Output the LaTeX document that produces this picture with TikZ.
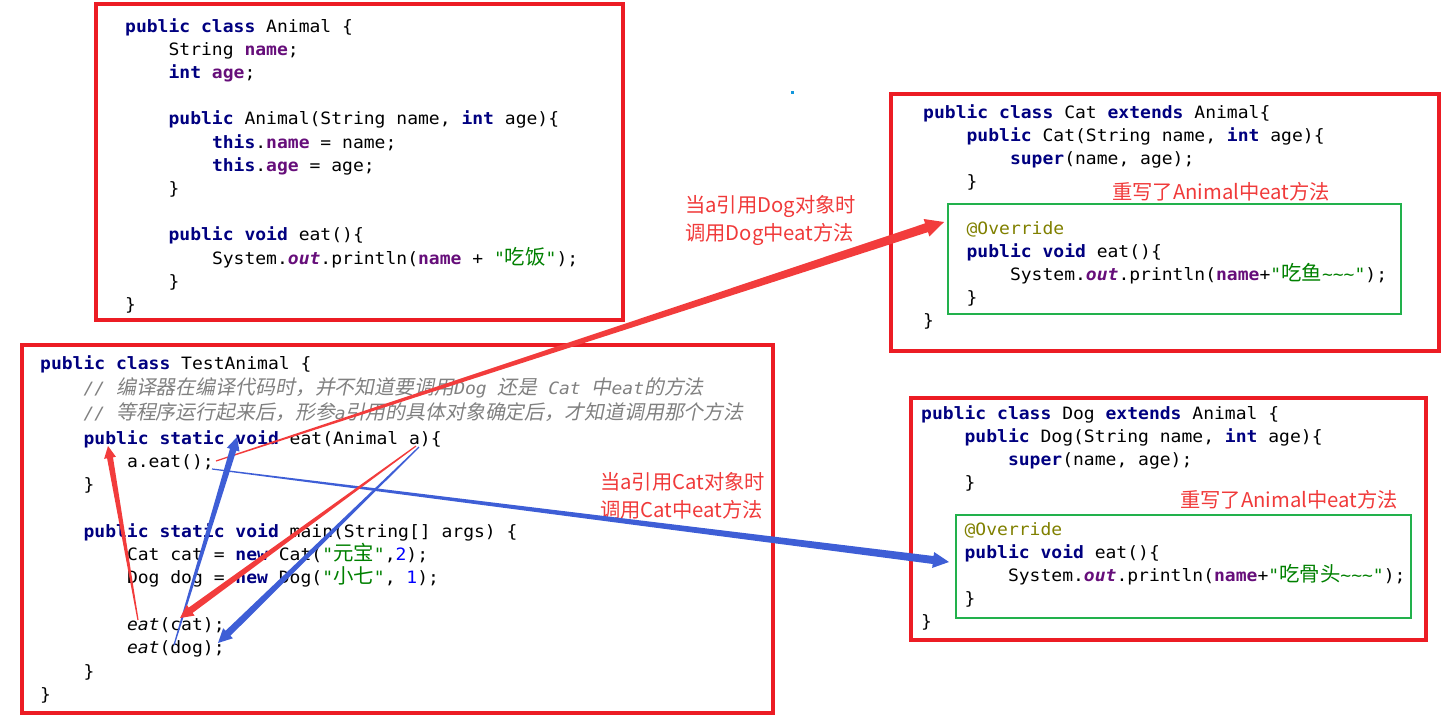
\documentclass[tikz,border=0pt]{standalone}
\usepackage{fontspec}
\usetikzlibrary{calc}
\setmonofont[FakeStretch=1.06]{DejaVu Sans Mono}
\newfontfamily\cjk[Scale=1.2]{Noto Sans CJK SC}
\newfontfamily\cjkit[Scale=1.17,FakeSlant=0.2]{Noto Sans CJK SC}
\newfontfamily\notefont{Noto Sans CJK SC}

\definecolor{boxred}{RGB}{236,28,36}
\definecolor{boxgreen}{RGB}{34,177,76}
\definecolor{notered}{RGB}{240,58,58}
\definecolor{arrred}{RGB}{242,60,60}
\definecolor{arrblue}{RGB}{62,94,214}
\definecolor{kwnavy}{RGB}{0,0,128}
\definecolor{fldpurple}{RGB}{102,14,122}
\definecolor{strgreen}{RGB}{0,128,0}
\definecolor{numblue}{RGB}{0,0,255}
\definecolor{cmtgray}{RGB}{128,128,128}
\definecolor{annolive}{RGB}{128,128,0}
\definecolor{dotblue}{RGB}{18,150,219}

% syntax colouring
\newcommand\kw[1]{\textcolor{kwnavy}{\bfseries #1}}
\newcommand\fld[1]{\textcolor{fldpurple}{\bfseries #1}}
\newcommand\str[1]{\textcolor{strgreen}{#1}}
\newcommand\num[1]{\textcolor{numblue}{#1}}
\newcommand\cmt[1]{\textcolor{cmtgray}{\itshape #1}}
\newcommand\ann[1]{\textcolor{annolive}{#1}}
\newcommand\outf{\textcolor{fldpurple}{\bfseries\itshape out}}
\newcommand\tld{\char`\~}
\newcommand\tab{\hspace*{43.4pt}}

% tapered arrow: colour, half width, from, to
\newcommand\bigarrow[4]{%
  \path ($(#4)!{4*#2pt}!(#3)$) coordinate (hb);
  \fill[#1] ($(#3)!0.6pt!90:(#4)$) -- ($(hb)!{#2pt}!90:(#4)$)
    -- ($(hb)!{2*#2pt}!90:(#4)$) -- (#4)
    -- ($(hb)!{2*#2pt}!-90:(#4)$) -- ($(hb)!{#2pt}!-90:(#4)$)
    -- ($(#3)!0.6pt!-90:(#4)$) -- cycle;
}

\tikzset{
  codebox/.style={draw=boxred, line width=3.2pt},
  overbox/.style={draw=boxgreen, line width=2.8pt},
  code/.style={anchor=north west, inner sep=0pt, align=left,
    font=\ttfamily\fontsize{17}{23.2}\selectfont},
  note/.style={inner sep=0pt, align=left, text=notered,
    font=\notefont\fontsize{20.3}{28.5}\selectfont},
}

\begin{document}
\begin{tikzpicture}[x=1pt,y=-1pt]
\useasboundingbox (0,0) rectangle (1455,721);

% class Animal
\draw[codebox] (96,4) rectangle (623,320);
\node[code] (animal) at (125,18) {%
\kw{public} \kw{class} Animal \{\\
\tab String \fld{name};\\
\tab\kw{int} \fld{age};\\
\mbox{}\\
\tab\kw{public} Animal(String name, \kw{int} age)\{\\
\tab\tab\kw{this}.\fld{name} = name;\\
\tab\tab\kw{this}.\fld{age} = age;\\
\tab\}\\
\mbox{}\\
\tab\kw{public} \kw{void} eat()\{\\
\tab\tab System.\outf.println(\fld{name} + \str{"{\cjk 吃饭}"});\\
\tab\}\\
\}};

% class TestAnimal
\draw[codebox] (22,345) rectangle (773,713);
\node[code, font=\ttfamily\fontsize{17}{23.3}\selectfont] (test) at (40,355) {%
\kw{public} \kw{class} TestAnimal \{\\[1.7pt]
\tab\cmt{// {\cjkit 编译器在编译代码时，并不知道要调用}Dog {\cjkit 还是} Cat {\cjkit 中}eat{\cjkit 的方法}}\\[1.7pt]
\tab\cmt{// {\cjkit 等程序运行起来后，形参}a{\cjkit 引用的具体对象确定后，才知道调用那个方法}}\\[1.7pt]
\tab\kw{public} \kw{static} \kw{void} eat(Animal a)\{\\
\tab\tab a.eat();\\
\tab\}\\
\mbox{}\\
\tab\kw{public} \kw{static} \kw{void} main(String[] args) \{\\
\tab\tab Cat cat = \kw{new} Cat(\str{"{\cjk 元宝}"},\num{2});\\
\tab\tab Dog dog = \kw{new} Dog(\str{"{\cjk 小七}"}, \num{1});\\
\mbox{}\\
\tab\tab\textit{eat}(cat);\\
\tab\tab\textit{eat}(dog);\\
\tab\}\\
\}};

% class Cat
\draw[codebox] (891,94) rectangle (1439,351);
\draw[overbox] (948,204) rectangle (1401,314);
\node[code] (cat) at (923,104) {%
\kw{public} \kw{class} Cat \kw{extends} Animal\{\\
\tab\kw{public} Cat(String name, \kw{int} age)\{\\
\tab\tab\kw{super}(name, age);\\
\tab\}\\
\mbox{}\\
\tab\ann{@Override}\\
\tab\kw{public} \kw{void} eat()\{\\
\tab\tab System.\outf.println(\fld{name}+\str{"{\cjk 吃鱼}\tld\tld\tld"});\\
\tab\}\\
\}};
\node[note, anchor=west] (catnote) at (1112,192) {重写了Animal中eat方法};

% class Dog
\draw[codebox] (911,398) rectangle (1426,640);
\draw[overbox] (956,515) rectangle (1411,618);
\node[code] (dog) at (921,405) {%
\kw{public} \kw{class} Dog \kw{extends} Animal \{\\
\tab\kw{public} Dog(String name, \kw{int} age)\{\\
\tab\tab\kw{super}(name, age);\\
\tab\}\\
\mbox{}\\
\tab\ann{@Override}\\
\tab\kw{public} \kw{void} eat()\{\\
\tab\tab System.\outf.println(\fld{name}+\str{"{\cjk 吃骨头}\tld\tld\tld"});\\
\tab\}\\
\}};
\node[note, anchor=west] (dognote) at (1180,500) {重写了Animal中eat方法};

% notes on the calls
\node[note, anchor=north west] (whendog) at (685,195) {当a引用Dog对象时\\调用Dog中eat方法};
\node[note, anchor=north west] (whencat) at (600,472) {当a引用Cat对象时\\调用Cat中eat方法};
\fill[dotblue] (790.5,90.5) rectangle (793.5,93.5);

% arrow ends
\coordinate (aeatr) at (216,461);
\coordinate (aeatb) at (212,469);
\coordinate (catin) at (944,222);
\coordinate (dogin) at (949,562);
\coordinate (eatcat) at (138,620);
\coordinate (eatdog) at (174,645);
\coordinate (pub) at (108,446);
\coordinate (void) at (237,437);
\coordinate (parr) at (416,446);
\coordinate (parb) at (419,447);
\coordinate (catarg) at (180,618);
\coordinate (dogarg) at (218,643);

\bigarrow{arrred}{4.6}{aeatr}{catin}
\bigarrow{arrblue}{4}{aeatb}{dogin}
\bigarrow{arrred}{3}{eatcat}{pub}
\bigarrow{arrblue}{3.3}{eatdog}{void}
\bigarrow{arrred}{3.3}{parr}{catarg}
\bigarrow{arrblue}{3.5}{parb}{dogarg}
\end{tikzpicture}
\end{document}
